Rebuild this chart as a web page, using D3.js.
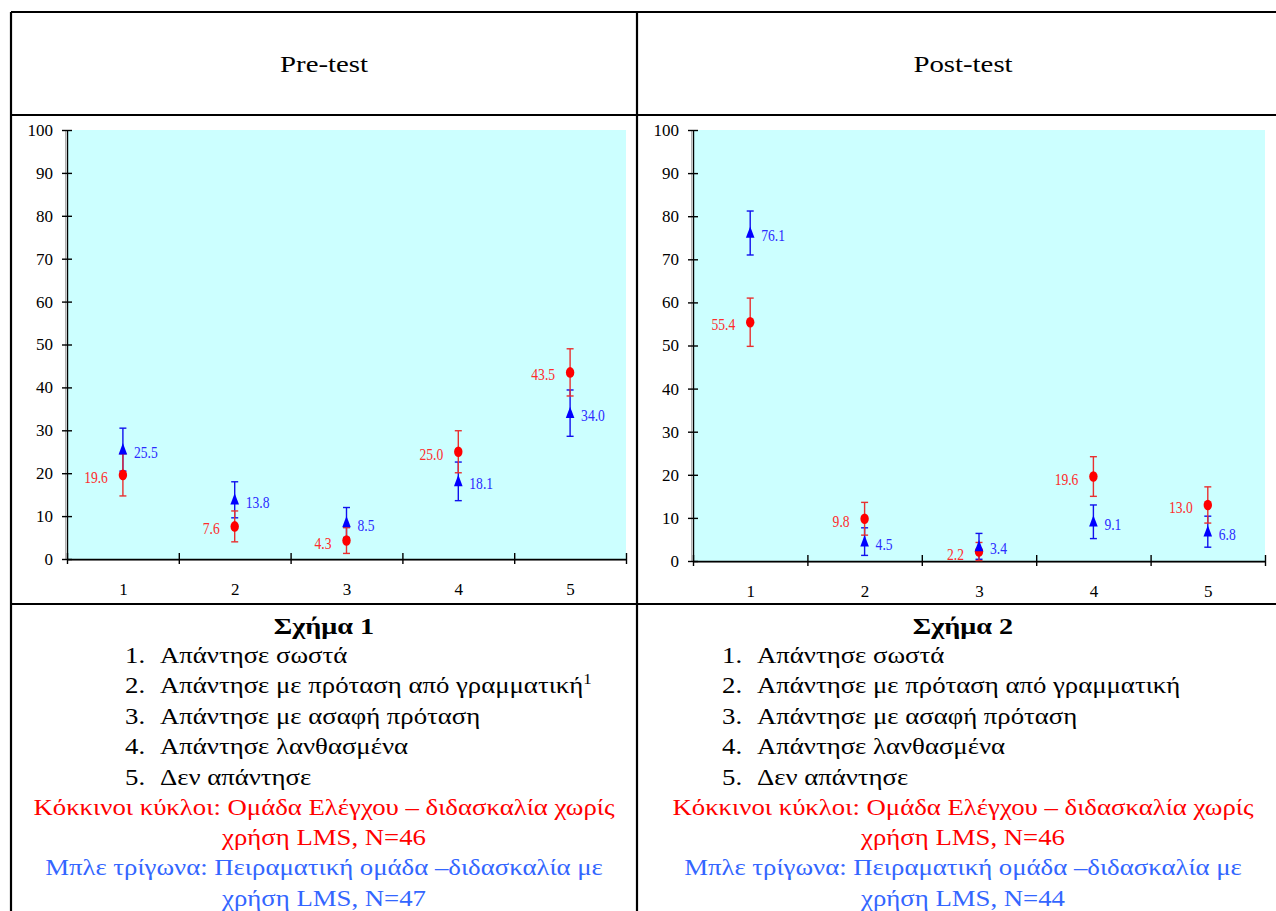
<!DOCTYPE html>
<html>
<head>
<meta charset="utf-8">
<script src="https://cdn.jsdelivr.net/npm/d3@7"></script>
<style>
  html, body { margin: 0; padding: 0; background: #fff; }
  svg { display: block; }
  text { font-family: 'Liberation Serif', 'DejaVu Serif', serif; }
</style>
</head>
<body>
<svg id="chart" width="1276" height="911"></svg>
<script>
const categories = [1, 2, 3, 4, 5];
const yTicks = [0, 10, 20, 30, 40, 50, 60, 70, 80, 90, 100];

// percentages, control group (red circles) and LMS group (blue triangles)
const preControl = [19.6, 7.6, 4.3, 25.0, 43.5];
const preControlErr = [4.9, 3.6, 3.0, 4.9, 5.5];
const preLms = [25.5, 13.8, 8.5, 18.1, 34.0];
const preLmsErr = [5.0, 4.2, 3.5, 4.5, 5.4];

const postControl = [55.4, 9.8, 2.2, 19.6, 13.0];
const postControlErr = [5.6, 3.8, 2.1, 4.6, 4.2];
const postLms = [76.1, 4.5, 3.4, 9.1, 6.8];
const postLmsErr = [5.1, 3.2, 3.0, 3.9, 3.6];

const answerLabels = [
  'Απάντησε σωστά',
  'Απάντησε με πρόταση από γραμματική',
  'Απάντησε με ασαφή πρόταση',
  'Απάντησε λανθασμένα',
  'Δεν απάντησε'
];

const panels = [
  {title: 'Pre-test', figure: 'Σχήμα 1', control: preControl, controlErr: preControlErr,
   lms: preLms, lmsErr: preLmsErr, nControl: 46, nLms: 47, footnote: true,
   cellX: 11, cellW: 626, plot: {x0: 67, x1: 626, y0: 559, y1: 130}, listX: 125},
  {title: 'Post-test', figure: 'Σχήμα 2', control: postControl, controlErr: postControlErr,
   lms: postLms, lmsErr: postLmsErr, nControl: 46, nLms: 44, footnote: false,
   cellX: 637, cellW: 652, plot: {x0: 693, x1: 1265, y0: 561, y1: 130}, listX: 722}
];

const FONT = "'Liberation Serif', 'DejaVu Serif', serif";
const RED = '#ff0000', BLUE = '#0000ff';
const RED_TXT = '#ff2b2b', BLUE_TXT = '#2b2bff';
const CAPTION_BLUE = '#3366ff';
const STRETCH = 'scale(1.2,1)';   // document text is drawn a little wide
const fmt = d3.format('.1f');

const svg = d3.select('#chart')
  .attr('font-family', FONT);

// table grid
const grid = svg.append('g')
  .attr('stroke', '#000')
  .attr('stroke-width', 2.2);
[[11, 12, 1290, 12], [11, 115, 1290, 115], [11, 604, 1290, 604],
 [11, 12, 11, 911], [637, 12, 637, 911]].forEach(l => {
  grid.append('line')
    .attr('x1', l[0]).attr('y1', l[1])
    .attr('x2', l[2]).attr('y2', l[3]);
});

// text placed at (x,y) and stretched horizontally around that point
function docText(x, y, size, anchor) {
  return svg.append('g')
    .attr('transform', 'translate(' + x + ',' + y + ')')
    .append('text')
    .attr('transform', STRETCH)
    .attr('text-anchor', anchor)
    .attr('font-family', FONT)
    .attr('font-size', size);
}

function drawPanel(p) {
  const cx = p.cellX + p.cellW / 2;

  docText(cx, 72, 24, 'middle').text(p.title);

  const x = d3.scaleLinear()
    .domain([0.5, 5.5])
    .range([p.plot.x0, p.plot.x1]);
  const y = d3.scaleLinear()
    .domain([0, 100])
    .range([p.plot.y0, p.plot.y1]);

  const g = svg.append('g');

  g.append('rect')
    .attr('x', x(0.5))
    .attr('y', y(100))
    .attr('width', x(5.5) - x(0.5))
    .attr('height', y(0) - y(100))
    .attr('fill', '#ccffff');

  // faint shadow lines next to the axes
  g.append('line')
    .attr('x1', x(0.5)).attr('x2', x(5.5))
    .attr('y1', y(0) + 1.5).attr('y2', y(0) + 1.5)
    .attr('stroke', '#9a9a9a');
  g.append('line')
    .attr('x1', x(0.5) - 1.5).attr('x2', x(0.5) - 1.5)
    .attr('y1', y(100)).attr('y2', y(0))
    .attr('stroke', '#b0b0b0');

  const yAxis = g.append('g')
    .attr('transform', 'translate(' + x(0.5) + ',0)')
    .call(d3.axisLeft(y).tickValues(yTicks).tickSize(5).tickSizeOuter(0).tickPadding(9));
  yAxis.selectAll('.tick line').attr('x1', 5);

  const boundaries = categories.map(c => c - 0.5).concat([categories.length + 0.5]);
  const xTicks = g.append('g')
    .attr('transform', 'translate(0,' + y(0) + ')')
    .call(d3.axisBottom(x).tickValues(boundaries).tickSize(5).tickSizeOuter(0).tickFormat(''));
  xTicks.selectAll('.tick line').attr('y1', -6);

  g.append('g')
    .attr('transform', 'translate(0,' + y(0) + ')')
    .call(d3.axisBottom(x).tickValues(categories).tickFormat(d3.format('d'))
      .tickSize(0).tickPadding(24))
    .call(a => a.select('.domain').remove());

  g.selectAll('g').attr('font-family', FONT);
  g.selectAll('.domain').attr('stroke', '#000').attr('stroke-width', 1.4);
  g.selectAll('.tick line').attr('stroke', '#000').attr('stroke-width', 1.4);
  g.selectAll('.tick text')
    .attr('font-size', 17)
    .attr('fill', '#000');

  const series = [
    {vals: p.lms, errs: p.lmsErr, stroke: '#1010ee'},
    {vals: p.control, errs: p.controlErr, stroke: '#e83030'}
  ];

  // error bars
  series.forEach(s => {
    const eb = g.append('g')
      .attr('stroke', s.stroke)
      .attr('stroke-width', 1.4);
    s.vals.forEach((v, i) => {
      const xc = x(categories[i]);
      const lo = y(Math.max(0, v - s.errs[i]));
      const hi = y(v + s.errs[i]);
      eb.append('line').attr('x1', xc).attr('x2', xc).attr('y1', lo).attr('y2', hi);
      eb.append('line').attr('x1', xc - 3.5).attr('x2', xc + 3.5).attr('y1', lo).attr('y2', lo);
      eb.append('line').attr('x1', xc - 3.5).attr('x2', xc + 3.5).attr('y1', hi).attr('y2', hi);
    });
  });

  // markers: red circles first, blue triangles on top
  g.selectAll('.dot')
    .data(p.control)
    .join('ellipse')
    .attr('class', 'dot')
    .attr('cx', (d, i) => x(categories[i]))
    .attr('cy', d => y(d))
    .attr('rx', 4.2)
    .attr('ry', 5.3)
    .attr('fill', RED);

  g.selectAll('.tri')
    .data(p.lms)
    .join('path')
    .attr('class', 'tri')
    .attr('d', (d, i) => {
      const xc = x(categories[i]), yc = y(d);
      return 'M' + xc + ',' + (yc - 6.5) + 'L' + (xc + 4.3) + ',' + (yc + 4.8) +
        'L' + (xc - 4.3) + ',' + (yc + 4.8) + 'Z';
    })
    .attr('fill', BLUE);

  // value labels, narrow like the original
  const labelGroup = (vals, dx, anchor, color) => {
    g.selectAll(null)
      .data(vals)
      .join('g')
      .attr('transform', (d, i) => 'translate(' + (x(categories[i]) + dx) + ',' + (y(d) + 8) + ')')
      .append('text')
      .attr('transform', 'scale(0.8,1)')
      .attr('text-anchor', anchor)
      .attr('font-family', FONT)
      .attr('font-size', 17)
      .attr('fill', color)
      .text(d => fmt(d));
  };
  labelGroup(p.control, -15, 'end', RED_TXT);
  labelGroup(p.lms, 11, 'start', BLUE_TXT);

  // caption
  docText(cx, 634, 23.5, 'middle')
    .attr('font-weight', 'bold')
    .text(p.figure);

  answerLabels.forEach((lab, i) => {
    const yy = 663 + i * 30.4;
    docText(p.listX, yy, 22.3, 'start').text((i + 1) + '.');
    const t = docText(p.listX + 35, yy, 22.3, 'start').text(lab);
    if (i === 1 && p.footnote) {
      t.append('tspan')
        .attr('dy', -9)
        .attr('font-size', 14)
        .text('1');
    }
  });

  const legendLines = [
    {text: 'Κόκκινοι κύκλοι: Ομάδα Ελέγχου – διδασκαλία χωρίς', color: RED},
    {text: 'χρήση LMS, N=' + p.nControl, color: RED},
    {text: 'Μπλε τρίγωνα: Πειραματική ομάδα –διδασκαλία με', color: CAPTION_BLUE},
    {text: 'χρήση LMS, N=' + p.nLms, color: CAPTION_BLUE}
  ];
  legendLines.forEach((l, i) => {
    docText(cx, 815 + i * 30.2, 22.3, 'middle')
      .attr('fill', l.color)
      .text(l.text);
  });
}

panels.forEach(drawPanel);
</script>
</body>
</html>
